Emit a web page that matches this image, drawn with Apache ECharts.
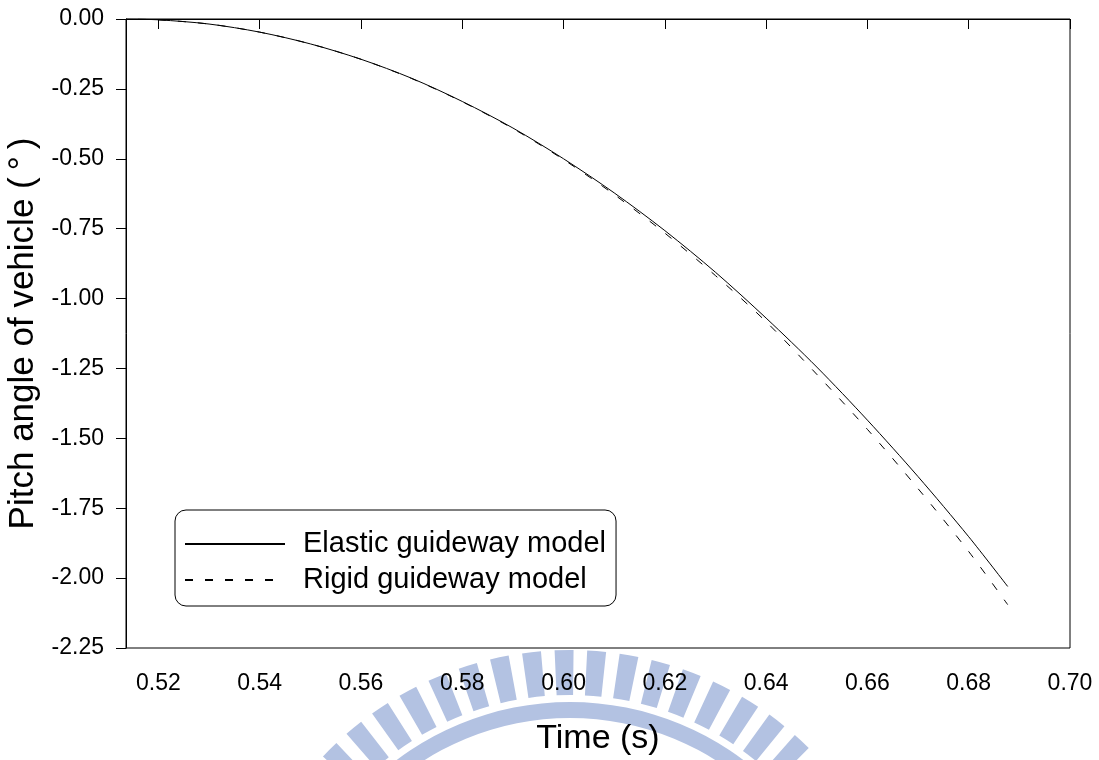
<!DOCTYPE html>
<html>
<head>
<meta charset="utf-8">
<script src="https://cdn.jsdelivr.net/npm/echarts@6/dist/echarts.min.js"></script>
<style>
  html, body { margin: 0; padding: 0; background: #fff; }
  #chart { width: 1099px; height: 760px; }
</style>
</head>
<body>
<div id="chart"></div>
<script>
// values
const timeS = [0.5136, 0.52, 0.53, 0.54, 0.55, 0.56, 0.57, 0.58, 0.59, 0.60,
  0.61, 0.62, 0.63, 0.64, 0.65, 0.66, 0.67, 0.68, 0.6877]
const elasticPitch = [0, -0.003, -0.018, -0.047, -0.089, -0.144, -0.212, -0.295, -0.39, -0.50,
  -0.622, -0.757, -0.906, -1.07, -1.245, -1.435, -1.637, -1.852, -2.03]
const rigidPitch = [0, -0.003, -0.018, -0.047, -0.089, -0.144, -0.213, -0.296, -0.392, -0.503,
  -0.628, -0.766, -0.918, -1.083, -1.271, -1.468, -1.68, -1.905, -2.095]
const xTicks = [0.52, 0.54, 0.56, 0.58, 0.60, 0.62, 0.64, 0.66, 0.68, 0.70]

const font = 'Liberation Sans, Arial, Noto Sans CJK SC, sans-serif'

function pairs(ys) {
  return timeS.map((t, i) => [t, ys[i]])
}

// light blue watermark behind the plot (ring + teeth)
function watermark() {
  const cx = 570
  const cy = 990
  const color = '#b3c2e2'
  const items = [{
    type: 'ring',
    shape: { cx, cy, r: 288, r0: 272 },
    style: { fill: color },
    z: -10
  }]
  for (let a = 47; a <= 136; a += 5.5) {
    const s = -(a + 1.6) * Math.PI / 180
    const e = -(a - 1.6) * Math.PI / 180
    items.push({
      type: 'sector',
      shape: { cx, cy, r: 340, r0: 295, startAngle: s, endAngle: e, clockwise: true },
      style: { fill: color },
      z: -10
    })
  }
  return items
}

const chart = echarts.init(document.getElementById('chart'))

chart.setOption({
  animation: false,
  backgroundColor: '#fff',
  textStyle: { fontFamily: font },
  graphic: watermark(),
  grid: {
    left: 126,
    right: 29,
    top: 19,
    bottom: 112,
    outerBoundsMode: 'none',
    show: true,
    borderColor: '#000',
    borderWidth: 1,
    backgroundColor: 'transparent'
  },
  legend: {
    orient: 'vertical',
    left: 175,
    top: 510,
    padding: [19, 10, 11, 9],
    itemWidth: 100,
    itemHeight: 14,
    itemGap: 6,
    borderColor: '#000',
    borderWidth: 1,
    borderRadius: 11,
    backgroundColor: '#fff',
    itemStyle: { opacity: 0 },
    lineStyle: { dashOffset: 0 },
    textStyle: { fontFamily: font, fontSize: 29, color: '#000', lineHeight: 30, padding: [0, 0, 0, 13] },
    data: ['Elastic guideway model', 'Rigid guideway model']
  },
  xAxis: {
    type: 'value',
    min: 0.5136,
    max: 0.70,
    name: 'Time (s)',
    nameLocation: 'middle',
    nameGap: 74,
    nameTextStyle: { fontFamily: font, fontSize: 34, color: '#000' },
    axisLine: { lineStyle: { color: '#000', width: 1 } },
    axisTick: { show: true, length: 10, inside: false, customValues: xTicks, lineStyle: { color: '#000' } },
    axisLabel: {
      customValues: xTicks,
      margin: 24,
      fontSize: 23,
      color: '#000',
      fontFamily: font,
      formatter: v => v.toFixed(2)
    },
    splitLine: { show: false }
  },
  yAxis: {
    type: 'value',
    min: -2.25,
    max: 0,
    interval: 0.25,
    name: 'Pitch angle of vehicle (\u2009°\u2009)',
    nameLocation: 'middle',
    nameRotate: 90,
    nameGap: 76,
    nameTextStyle: { fontFamily: font, fontSize: 35, color: '#000' },
    axisLine: { show: true, lineStyle: { color: '#000', width: 1 } },
    axisTick: { show: true, length: 10, inside: false, lineStyle: { color: '#000' } },
    axisLabel: {
      margin: 22,
      fontSize: 23,
      color: '#000',
      fontFamily: font,
      formatter: v => v.toFixed(2)
    },
    splitLine: { show: false }
  },
  series: [
    {
      name: 'Elastic guideway model',
      type: 'line',
      data: pairs(elasticPitch),
      smooth: 0.3,
      symbol: 'none',
      lineStyle: { color: '#000', width: 1, type: 'solid' },
      itemStyle: { color: '#000' }
    },
    {
      name: 'Rigid guideway model',
      type: 'line',
      data: pairs(rigidPitch),
      smooth: 0.3,
      symbol: 'none',
      lineStyle: { color: '#000', width: 1, type: [8, 12], dashOffset: 8 },
      itemStyle: { color: '#000' }
    }
  ]
})
</script>
</body>
</html>
